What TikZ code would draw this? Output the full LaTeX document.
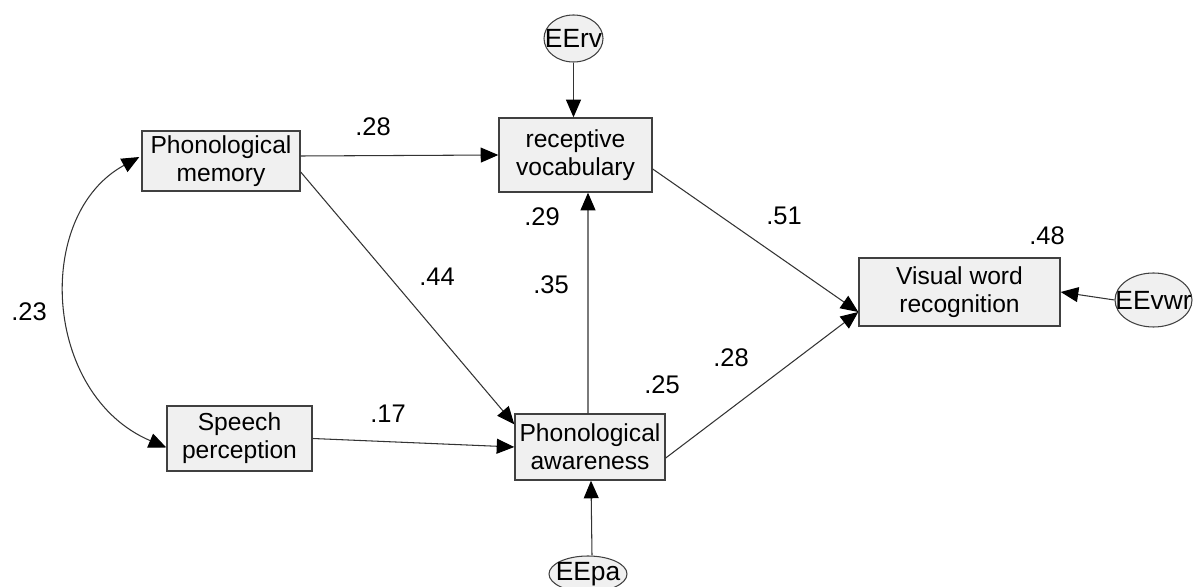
\documentclass[tikz,border=0pt]{standalone}
\usepackage{fontspec}
\setmainfont{Liberation Sans}
\usetikzlibrary{arrows.meta,calc,shapes.geometric}
\definecolor{boxfill}{HTML}{F0F0F0}
\definecolor{boxline}{HTML}{404040}
\newcommand{\errlabel}[1]{\makebox[0pt]{#1}}
\begin{document}
\begin{tikzpicture}[x=0.02cm,y=-0.02cm,
  font=\fontsize{14}{16}\selectfont,
  observed/.style={draw=boxline,fill=boxfill,line width=0.8pt,rectangle,inner sep=0pt,align=center},
  errterm/.style={draw=boxline,fill=boxfill,line width=0.6pt,ellipse,inner sep=0pt,font=\fontsize{15}{17}\selectfont},
  causal/.style={draw=black!80,line width=0.6pt,-{Triangle[length=10pt,width=8.5pt,fill=black,color=black]}},
  coef/.style={inner sep=0pt,font=\fontsize{14.5}{16}\selectfont}]
\useasboundingbox (0,0) rectangle (1197,587);

% observed variables
\node[observed,minimum width=158*0.02cm,minimum height=60*0.02cm] (pm) at (221,161) {Phonological\\memory};
\node[observed,minimum width=153*0.02cm,minimum height=74*0.02cm] (rv) at (575.5,155) {receptive\\vocabulary};
\node[observed,minimum width=201*0.02cm,minimum height=68*0.02cm] (vwr) at (959.5,292) {Visual word\\recognition};
\node[observed,minimum width=145*0.02cm,minimum height=65*0.02cm] (sp) at (239.5,438.5) {Speech\\perception};
\node[observed,minimum width=150*0.02cm,minimum height=66*0.02cm] (pa) at (590,447) {Phonological\\awareness};

% error terms
\node[errterm,minimum width=59*0.02cm,minimum height=47*0.02cm] (eerv) at (573.5,38.5) {\errlabel{EErv}};
\node[errterm,minimum width=77*0.02cm,minimum height=54*0.02cm] (eevwr) at (1153.5,300) {\errlabel{EEvwr}};
\node[errterm,minimum width=78*0.02cm,minimum height=36*0.02cm] (eepa) at (588,574) {\errlabel{EEpa}};

% structural paths
\draw[causal] ($(pm.east)+(0,-5)$) -- (rv.west);
\draw[causal] ($(pm.east)+(0,11)$) -- ($(pa.north west)+(0,11)$);
\draw[causal] (sp.east) -- (pa.west);
\draw[causal] ($(pa.north)+(-2,0)$) -- ($(rv.south)+(12.5,0)$);
\draw[causal] ($(rv.east)+(0,14)$) -- ($(vwr.west)+(0,20)$);
\draw[causal] ($(pa.east)+(0,11)$) -- ($(vwr.west)+(0,20)$);

% error paths
\draw[causal] (eerv) -- (eerv |- rv.north);
\draw[causal] (eevwr.west) -- (vwr.east);
\draw[causal] ($(eepa.north)+(4,0)$) -- ($(pa.south)+(1,0)$);

% covariance
\draw[draw=black!80,line width=0.6pt,{Triangle[length=10pt,width=8.5pt,fill=black,color=black]}-{Triangle[length=10pt,width=8.5pt,fill=black,color=black]}]
  ($(pm.west)+(-2,-4)$) .. controls (33,215) and (43,395) .. ($(sp.west)+(0,9)$);

% coefficients
\node[coef] (c1) at (373,127) {.28};
\node[coef] (c2) at (437,277) {.44};
\node[coef] (c3) at (542,217) {.29};
\node[coef] (c4) at (551,285) {.35};
\node[coef] (c5) at (784,216) {.51};
\node[coef] (c6) at (1047,236) {.48};
\node[coef] (c7) at (731,358) {.28};
\node[coef] (c8) at (662,385) {.25};
\node[coef] (c9) at (388,414) {.17};
\node[coef] (c10) at (29,312) {.23};
\end{tikzpicture}
\end{document}
